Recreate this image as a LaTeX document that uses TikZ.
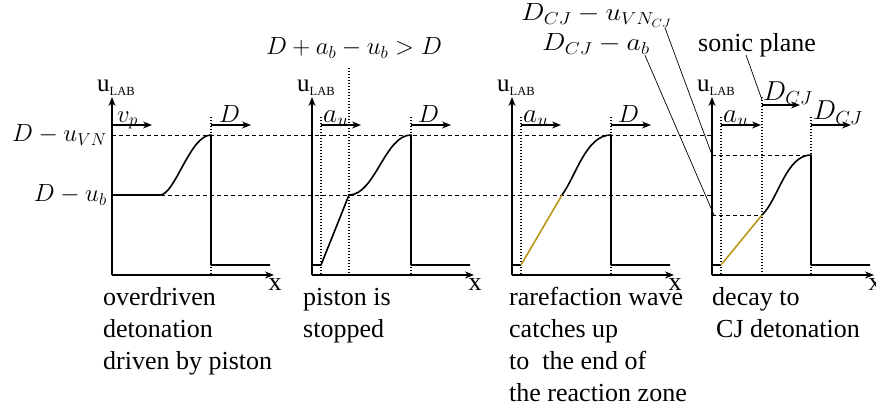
\documentclass[tikz,border=0pt]{standalone}
\usepackage{fontspec}
\setmainfont{Liberation Serif}
\usepackage{xcolor}
\usetikzlibrary{arrows.meta, positioning, calc}
\definecolor{fanolive}{RGB}{185,150,25}
\tikzset{
  axis/.style={-{Stealth[length=9pt,width=7pt]}, line width=1.1pt},
  profile/.style={line width=1.6pt, line join=round},
  fan/.style={line width=1.6pt, draw=fanolive},
  front/.style={line width=1.4pt, dash pattern=on 1.4pt off 1.6pt},
  level/.style={line width=0.8pt, dash pattern=on 4pt off 3pt},
  speed/.style={-{Stealth[length=9pt,width=7pt]}, line width=1.1pt},
  leader/.style={line width=0.7pt},
  mlabel/.style={inner sep=0pt, font=\fontsize{25}{30}\selectfont},
  caption/.style={anchor=base west, align=left, inner sep=0pt, font=\fontsize{26}{32.3}\selectfont}
}
\newcommand{\widemath}[1]{\scalebox{1.1}{$#1$}}
\newcommand{\flatmath}[1]{\scalebox{1.12}[1]{$#1$}}
\newcommand{\uplot}[2]{%
  \begin{scope}[shift={(#1,0)}]
    \coordinate (#2) at (0,275);
    \draw[axis] (0,275) -- (0,97);
    \draw[axis] (0,275) -- (162,275);
    \node[mlabel, anchor=base west] (#2-u) at (-15,92) {$\mathrm{u}_{\scriptscriptstyle\mathrm{LAB}}$};
    \node[mlabel, anchor=base, font=\fontsize{26}{30}\selectfont] (#2-x) at (163,290) {x};
  \end{scope}
}

\begin{document}
\begin{tikzpicture}[x=1pt, y=-1pt]
        \useasboundingbox (0,0) rectangle (876,412);

        % Axes
        \uplot{112}{drive}
        \uplot{312}{stop}
        \uplot{512}{fan}
        \uplot{712}{decay}

        % Levels
        \draw[level] (112,135) -- (712,135);
        \draw[level] (112,195) -- (712,195);
        \draw[level] (712,155) -- (811,155);
        \draw[level] (712,215) -- (762,215);
        \node[mlabel, anchor=east] (uvn) at (107,135) {$D-u_{VN}$};
        \node[mlabel, anchor=east] (ub)  at (107,195) {$D-u_b$};

        % Fronts
        \draw[front] (211,117) -- (211,275);
        \draw[front] (321,117) -- (321,275);
        \draw[front] (349,68)  -- (349,275);
        \draw[front] (411,117) -- (411,275);
        \draw[front] (521,117) -- (521,275);
        \draw[front] (611,117) -- (611,275);
        \draw[front] (721,117) -- (721,275);
        \draw[front] (762,97)  -- (762,275);
        \draw[front] (811,117) -- (811,275);

        % Profiles
        \draw[profile] (112,195) -- (160,195) .. controls (175,195) and (190,135) .. (211,135) -- (211,265) -- (270,265);
        \draw[profile] (312,265) -- (321,265) -- (349,195) .. controls (375,195) and (385,135) .. (411,135) -- (411,265) -- (470,265);
        \draw[profile] (512,265) -- (521,265);
        \draw[fan] (521,265) -- (562,195);
        \draw[profile] (562,195) .. controls (576,176) and (586,135) .. (611,135) -- (611,265) -- (670,265);
        \draw[profile] (712,265) -- (721,265);
        \draw[fan] (721,265) -- (762,215);
        \draw[profile] (762,215) .. controls (778,200) and (786,155) .. (811,155) -- (811,265) -- (870,265);

        % Speeds
        \draw[speed] (112,125) -- (152,125);
        \draw[speed] (211,125) -- (251,125);
        \draw[speed] (321,125) -- (361,125);
        \draw[speed] (411,125) -- (451,125);
        \draw[speed] (521,125) -- (561,125);
        \draw[speed] (611,125) -- (651,125);
        \draw[speed] (721,125) -- (761,125);
        \draw[speed] (762,105) -- (800,105);
        \draw[speed] (811,125) -- (851,125);
        \node[mlabel, anchor=base west] (vp)  at (117,122) {$v_p$};
        \node[mlabel, anchor=base west] (d1)  at (219,122) {$D$};
        \node[mlabel, anchor=base west] (au2) at (323,122) {\widemath{a_u}};
        \node[mlabel, anchor=base west] (d2)  at (418,122) {$D$};
        \node[mlabel, anchor=base west] (au3) at (523,122) {\widemath{a_u}};
        \node[mlabel, anchor=base west] (d3)  at (618,122) {$D$};
        \node[mlabel, anchor=base west] (au4) at (723,122) {\widemath{a_u}};
        \node[mlabel, anchor=base west] (cj1) at (763,100) {\widemath{D_{CJ}}};
        \node[mlabel, anchor=base west] (cj2) at (813,120) {\widemath{D_{CJ}}};

        % Top labels
        \node[mlabel, anchor=base] (overtake) at (354,55) {$D+a_b-u_b>D$};
        \node[mlabel, anchor=base west] (vncj) at (521,21) {\flatmath{D_{CJ}-u_{VN_{CJ}}}};
        \node[mlabel, anchor=base west] (cjab) at (542,51) {\flatmath{D_{CJ}-a_b}};
        \node[caption] (sonic) at (698,52) {sonic plane};
        \draw[leader] ($(vncj.south east)+(-7,0)$) -- (712,155);
        \draw[leader] ($(cjab.south east)+(-5,0)$) -- (714,215);
        \draw[leader] ($(sonic.base west)+(48,3)$) -- (762,100);

        % Captions (base = last line)
        \node[caption] (cap1) at (103,369.6) {overdriven\\detonation\\driven by piston};
        \node[caption] (cap2) at (303,337.3) {piston is\\stopped};
        \node[caption] (cap3) at (509,401.9) {rarefaction wave\\catches up\\to~ the end of\\the reaction zone};
        \node[caption] (cap4) at (712,337.3) {decay to\\\hspace*{4pt}CJ detonation};
    \end{tikzpicture}
\end{document}
